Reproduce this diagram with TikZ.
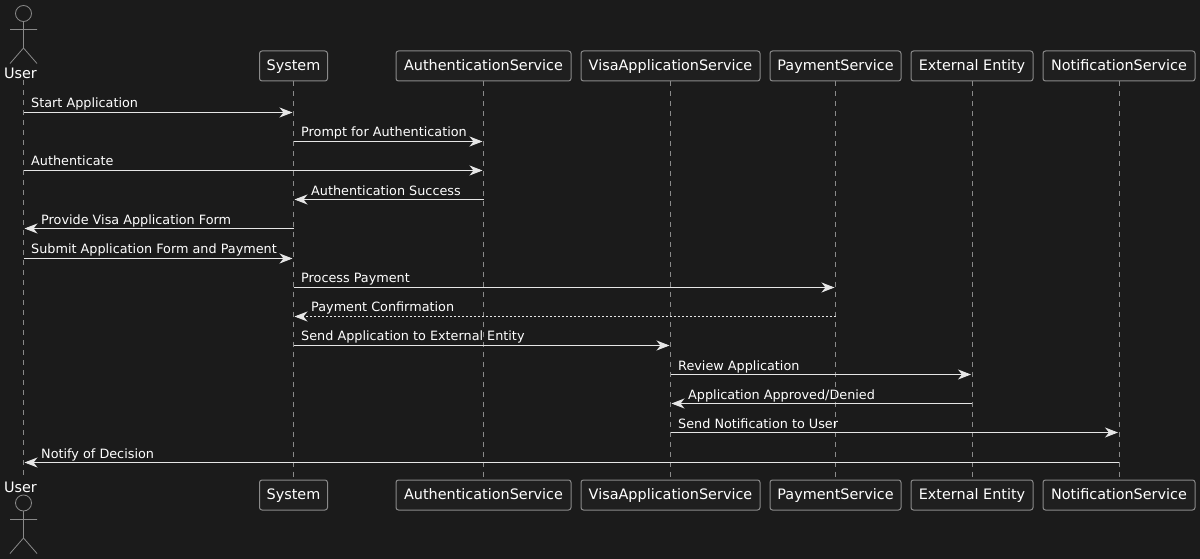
\documentclass[tikz,border=0pt]{standalone}
\usepackage{fontspec}
\setmainfont{DejaVu Sans}
\usetikzlibrary{positioning}
\usetikzlibrary{arrows.meta}
\definecolor{bgdark}{HTML}{1B1B1B}
\definecolor{boxdark}{HTML}{1F1F1F}
\definecolor{edgegray}{HTML}{8A8A8A}
\definecolor{msgwhite}{HTML}{E6E6E6}
\tikzset{
    partbox/.style = {draw=edgegray, fill=boxdark, rounded corners=2.5pt, line width=1pt, text=white, font=\fontsize{14.4}{16}\selectfont, minimum height=30pt, inner sep=0pt, text height=10.5pt, text depth=1.5pt, anchor=north},
    actorlabel/.style = {text=white, font=\fontsize{14.4}{16}\selectfont, inner sep=0pt},
    actorline/.style = {draw=edgegray, line width=0.8pt},
    lifeline/.style = {draw=edgegray, line width=0.8pt, dash pattern=on 5pt off 5pt},
    msg/.style = {-{Stealth[length=13pt,width=10pt,inset=4pt]}, draw=msgwhite, line width=1pt, shorten >=1pt},
    msgdot/.style = {msg, dash pattern=on 2pt off 2pt},
    msglabel/.style = {text=white, font=\fontsize{12.8}{15}\selectfont, inner sep=0pt, anchor=base west}
}
\begin{document}
\begin{tikzpicture}[x=1pt,y=-1pt]
  \useasboundingbox[fill=bgdark] (0,0) rectangle (1200,559);

  % top row
  \coordinate (usertop) at (23.5,80);
  \node[partbox, minimum width=68pt] (systop) at (293.5,50.5) {System};
  \node[partbox, minimum width=175pt] (authtop) at (483.5,50.5) {AuthenticationService};
  \node[partbox, minimum width=179pt] (visatop) at (670.5,50.5) {VisaApplicationService};
  \node[partbox, minimum width=131pt] (paytop) at (835.5,50.5) {PaymentService};
  \node[partbox, minimum width=122pt] (exttop) at (972,50.5) {External Entity};
  \node[partbox, minimum width=152pt] (notiftop) at (1119,50.5) {NotificationService};

  % bottom row
  \coordinate (userbot) at (23.5,479.5);
  \node[partbox, minimum width=68pt] (sysbot) at (293.5,479.5) {System};
  \node[partbox, minimum width=175pt] (authbot) at (483.5,479.5) {AuthenticationService};
  \node[partbox, minimum width=179pt] (visabot) at (670.5,479.5) {VisaApplicationService};
  \node[partbox, minimum width=131pt] (paybot) at (835.5,479.5) {PaymentService};
  \node[partbox, minimum width=122pt] (extbot) at (972,479.5) {External Entity};
  \node[partbox, minimum width=152pt] (notifbot) at (1119,479.5) {NotificationService};

  % actors
  \node[actorlabel] (usertext) at (20.5,73) {User};
  \node[actorlabel] (userbottext) at (20.5,487) {User};
  \draw[actorline] (23.5,13.5) circle (8);
  \draw[actorline] (23.5,21.5) -- (23.5,48) (10,29.5) -- (37,29.5) (10,63.5) -- (23.5,48) -- (37,63.5);
  \draw[actorline] (23.5,503) circle (8);
  \draw[actorline] (23.5,511) -- (23.5,538) (10,519.5) -- (37,519.5) (10,553.5) -- (23.5,538) -- (37,553.5);

  % lifelines
  \draw[lifeline] (usertop) -- (userbot);
  \draw[lifeline] (systop) -- (sysbot);
  \draw[lifeline] (authtop) -- (authbot);
  \draw[lifeline] (visatop) -- (visabot);
  \draw[lifeline] (paytop) -- (paybot);
  \draw[lifeline] (exttop) -- (extbot);
  \draw[lifeline] (notiftop) -- (notifbot);

  % message rows
  \foreach \rowname/\rowy in {ma/112.5,mb/141.5,mc/170.5,md/199.5,me/228.5,mf/258.5,mg/287.5,mh/316.5,mi/345.5,mj/374.5,mk/403.5,ml/432.5,mm/462.5}
    \coordinate (\rowname) at (0,\rowy);

  \draw[msg] (usertop |- ma) -- (systop.north |- ma);
  \draw[msg] (systop.north |- mb) -- (authtop.north |- mb);
  \draw[msg] (usertop |- mc) -- (authtop.north |- mc);
  \draw[msg] (authtop.north |- md) -- (systop.north |- md);
  \draw[msg] (systop.north |- me) -- (usertop |- me);
  \draw[msg] (usertop |- mf) -- (systop.north |- mf);
  \draw[msg] (systop.north |- mg) -- (paytop.north |- mg);
  \draw[msgdot] (paytop.north |- mh) -- (systop.north |- mh);
  \draw[msg] (systop.north |- mi) -- (visatop.north |- mi);
  \draw[msg] (visatop.north |- mj) -- (exttop.north |- mj);
  \draw[msg] (exttop.north |- mk) -- (visatop.north |- mk);
  \draw[msg] (visatop.north |- ml) -- (notiftop.north |- ml);
  \draw[msg] (notiftop.north |- mm) -- (usertop |- mm);

  % message labels
  \node[msglabel] (la) at (31,108) {Start Application};
  \node[msglabel] (lb) at (301,137) {Prompt for Authentication};
  \node[msglabel] (lc) at (31,166) {Authenticate};
  \node[msglabel] (ld) at (311,195) {Authentication Success};
  \node[msglabel] (le) at (41,224) {Provide Visa Application Form};
  \node[msglabel] (lf) at (31,253) {Submit Application Form and Payment};
  \node[msglabel] (lg) at (301,282) {Process Payment};
  \node[msglabel] (lh) at (311,311) {Payment Confirmation};
  \node[msglabel] (li) at (301,340) {Send Application to External Entity};
  \node[msglabel] (lj) at (678,370) {Review Application};
  \node[msglabel] (lk) at (688,399) {Application Approved/Denied};
  \node[msglabel] (ll) at (678,428) {Send Notification to User};
  \node[msglabel] (lm) at (41,458) {Notify of Decision};
\end{tikzpicture}
\end{document}
